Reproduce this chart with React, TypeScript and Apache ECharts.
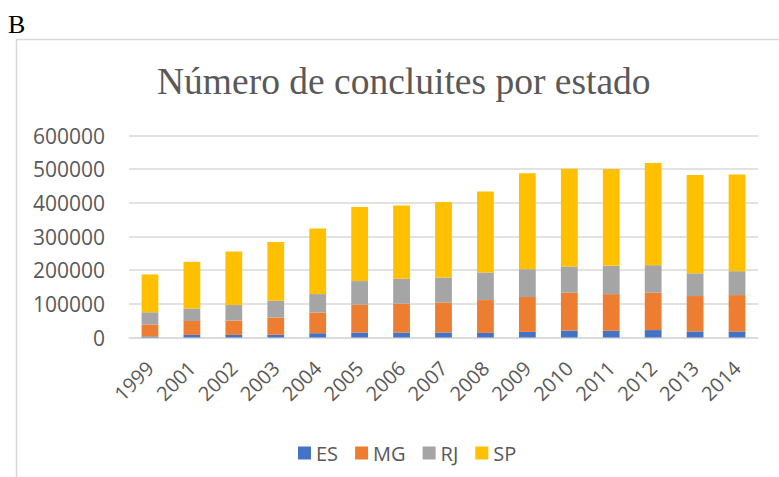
import React, { useEffect, useRef } from "react";
import * as echarts from "echarts";

const categories = ["1999", "2001", "2002", "2003", "2004", "2005", "2006", "2007", "2008", "2009", "2010", "2011", "2012", "2013", "2014"];
const esValues = [3000, 7700, 7700, 8000, 12700, 14800, 14800, 14800, 13700, 16700, 20700, 19800, 22000, 18000, 18000];
const mgValues = [35500, 41400, 42600, 51200, 61300, 82800, 85800, 88800, 97500, 103500, 112400, 109000, 111100, 105100, 108000];
const rjValues = [36400, 36700, 46100, 50300, 55000, 69900, 74000, 74800, 82000, 82800, 77900, 84000, 81700, 67500, 71000];
const spValues = [112400, 139100, 158900, 174500, 194400, 220100, 217700, 224000, 240500, 285200, 289900, 287500, 303800, 292000, 287000];
const seriesNames = ["ES", "MG", "RJ", "SP"];
const seriesColors = ["#4472C4", "#ED7D31", "#A5A5A5", "#FFC000"];

const textColor = "#595959";
const sansFont = "'Open Sans', 'Noto Sans', sans-serif";
const serifFont = "'Liberation Serif', 'DejaVu Serif', serif";

export default function App() {
  const ref = useRef<HTMLDivElement>(null);
  useEffect(() => {
    if (!ref.current) return;
    const chart = echarts.init(ref.current, null, { renderer: "svg" });
    const allValues = [esValues, mgValues, rjValues, spValues];
    chart.setOption({
      animation: false,
      backgroundColor: "#ffffff",
      title: {
        text: "Número de concluites por estado",
        left: 152,
        top: 57,
        textStyle: { fontFamily: serifFont, fontSize: 37.5, fontWeight: "normal", color: textColor },
      },
      graphic: [
        {
          type: "rect",
          shape: { x: 16.5, y: 39.5, width: 900, height: 600 },
          style: { fill: "none", stroke: "#d9d9d9", lineWidth: 1.5 },
          silent: true,
        },
        {
          type: "text",
          left: 8,
          top: 11,
          style: { text: "B", font: `26px ${serifFont}`, fill: "#000000" },
        },
      ],
      legend: {
        data: seriesNames,
        left: 293,
        top: 438,
        icon: "rect",
        itemWidth: 13,
        itemHeight: 13,
        itemGap: 17,
        textStyle: { fontFamily: sansFont, fontSize: 20, color: textColor },
      },
      grid: { left: 129, right: 21, top: 135.5, bottom: 139.5, containLabel: false },
      xAxis: {
        type: "category",
        data: categories,
        axisLine: { show: true, lineStyle: { color: "#d9d9d9", width: 1.5 } },
        axisTick: { show: false },
        axisLabel: {
          interval: 0,
          rotate: 45,
          margin: 27,
          fontFamily: sansFont,
          fontSize: 20,
          color: textColor,
        },
      },
      yAxis: {
        type: "value",
        min: 0,
        max: 600000,
        interval: 100000,
        axisLine: { show: false },
        axisTick: { show: false },
        axisLabel: {
          margin: 24,
          fontFamily: sansFont,
          fontSize: 21,
          color: textColor,
          formatter: (v: number) => String(v),
        },
        splitLine: { lineStyle: { color: "#d9d9d9", width: 1.5 } },
      },
      series: seriesNames.map((name, i) => ({
        name,
        type: "bar",
        stack: "total",
        data: allValues[i],
        barWidth: "40%",
        itemStyle: { color: seriesColors[i] },
      })),
    });
    return () => chart.dispose();
  }, []);
  return <div ref={ref} style={{ position: "fixed", left: 0, top: 0, width: 779, height: 477 }} />;
}
